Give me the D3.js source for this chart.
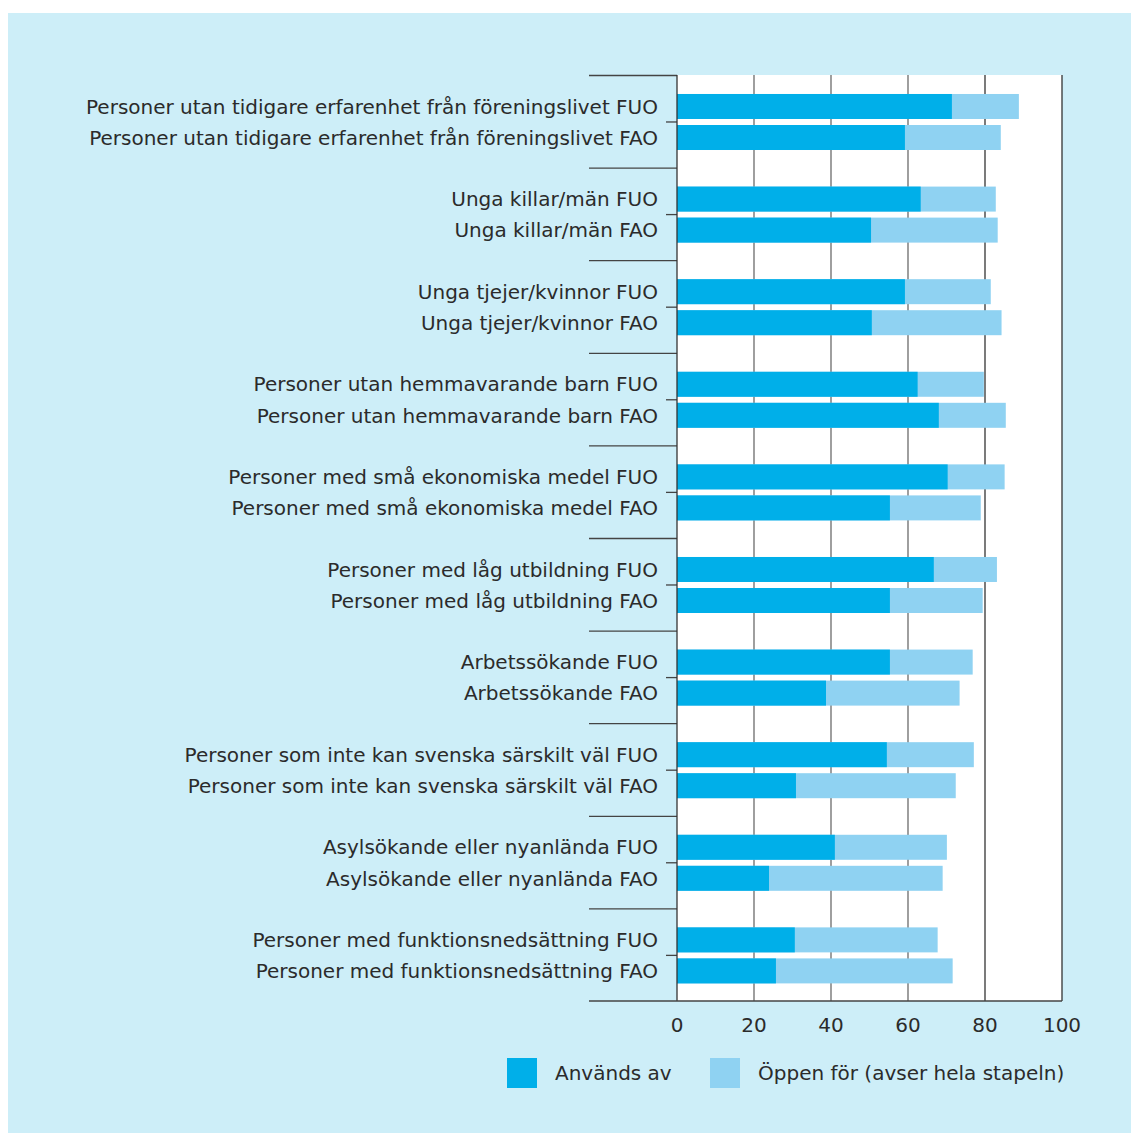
<!DOCTYPE html>
<html><head><meta charset="utf-8">
<script src="https://cdn.jsdelivr.net/npm/d3@7"></script>
<style>body{margin:0;background:#fff;}svg{display:block;}</style>
</head><body>
<script>
const categories = [
  "Personer utan tidigare erfarenhet från föreningslivet FUO",
  "Personer utan tidigare erfarenhet från föreningslivet FAO",
  "Unga killar/män FUO",
  "Unga killar/män FAO",
  "Unga tjejer/kvinnor FUO",
  "Unga tjejer/kvinnor FAO",
  "Personer utan hemmavarande barn FUO",
  "Personer utan hemmavarande barn FAO",
  "Personer med små ekonomiska medel FUO",
  "Personer med små ekonomiska medel FAO",
  "Personer med låg utbildning FUO",
  "Personer med låg utbildning FAO",
  "Arbetssökande FUO",
  "Arbetssökande FAO",
  "Personer som inte kan svenska särskilt väl FUO",
  "Personer som inte kan svenska särskilt väl FAO",
  "Asylsökande eller nyanlända FUO",
  "Asylsökande eller nyanlända FAO",
  "Personer med funktionsnedsättning FUO",
  "Personer med funktionsnedsättning FAO"
];
const usedBy = [71.4,59.2, 63.3,50.4, 59.2,50.6, 62.5,68.0, 70.3,55.3, 66.7,55.3, 55.3,38.7, 54.5,30.9, 41.0,23.9, 30.6,25.7];
const openFor = [88.8,84.1, 82.8,83.3, 81.5,84.3, 79.7,85.4, 85.1,78.9, 83.1,79.4, 76.8,73.4, 77.1,72.4, 70.1,69.0, 67.7,71.6];
const ticks = [0,20,40,60,80,100];
const legendLabels = ["Används av","Öppen för (avser hela stapeln)"];
const colors = ["#00afe9","#8fd2f2"];

const W=1131,H=1133;
const FONT="DejaVu Sans, Verdana, sans-serif";
const svg=d3.select("body").append("svg").attr("width",W).attr("height",H);
svg.append("rect").attr("x",8).attr("y",13).attr("width",W-8).attr("height",H-13).attr("fill","#cdeef8");

const x0=677,x1=1062,yTop=75,yBot=1001;
const x=d3.scaleLinear().domain([0,100]).range([x0,x1]);
const nGroups=categories.length/2;
const groups=d3.range(nGroups);
const yg=d3.scaleBand().domain(groups).range([yTop,yBot]).padding(0);
const gh=yg.bandwidth();
const barH=25;
const rowY=i=>{const g=Math.floor(i/2);return yg(g)+gh*0.205+(i%2)*gh*0.335;};

svg.append("rect").attr("x",x0).attr("y",yTop).attr("width",x1-x0).attr("height",yBot-yTop).attr("fill","#fff");

// gridlines
svg.selectAll(".grid").data(ticks.slice(1)).enter().append("line")
  .attr("x1",d=>x(d)).attr("x2",d=>x(d)).attr("y1",yTop).attr("y2",yBot)
  .attr("stroke",d=>d===60||d===20||d===40?"#6b6b6b":"#333").attr("stroke-width",1.3);

// bars
const bars=categories.map((c,i)=>({c,i,u:usedBy[i],o:openFor[i]}));
svg.selectAll(".bo").data(bars).enter().append("rect")
  .attr("x",x(0)).attr("y",d=>rowY(d.i)).attr("width",d=>x(d.o)-x(0)).attr("height",barH).attr("fill",colors[1]);
svg.selectAll(".bu").data(bars).enter().append("rect")
  .attr("x",x(0)).attr("y",d=>rowY(d.i)).attr("width",d=>x(d.u)-x(0)).attr("height",barH).attr("fill",colors[0]);

// separators
svg.selectAll(".sep").data(groups).enter().append("line")
  .attr("x1",589).attr("x2",x0).attr("y1",d=>yg(d)+0.5).attr("y2",d=>yg(d)+0.5)
  .attr("stroke","#444").attr("stroke-width",1.3);
svg.selectAll(".mt").data(groups).enter().append("line")
  .attr("x1",666).attr("x2",x0).attr("y1",d=>rowY(d*2)+barH+3).attr("y2",d=>rowY(d*2)+barH+3)
  .attr("stroke","#444").attr("stroke-width",1.3);
// axis lines
svg.append("line").attr("x1",x0).attr("x2",x0).attr("y1",yTop).attr("y2",yBot).attr("stroke","#333").attr("stroke-width",1.3);
svg.append("line").attr("x1",589).attr("x2",x1).attr("y1",yBot).attr("y2",yBot).attr("stroke","#444").attr("stroke-width",1.3);

// labels
svg.selectAll(".lab").data(bars).enter().append("text")
  .attr("x",658).attr("y",d=>rowY(d.i)+barH/2).attr("dy","0.36em")
  .attr("text-anchor","end").attr("font-family",FONT).attr("font-size",20)
  .attr("fill","#2b2b2b").text(d=>d.c);

// x tick labels
svg.selectAll(".tl").data(ticks).enter().append("text")
  .attr("x",d=>x(d)).attr("y",1032).attr("text-anchor","middle")
  .attr("font-family",FONT).attr("font-size",20).attr("fill","#2b2b2b").text(d=>d);

// legend
const lx=[507,710];
legendLabels.forEach((t,i)=>{
  svg.append("rect").attr("x",lx[i]).attr("y",1058).attr("width",30).attr("height",30).attr("fill",colors[i]);
  svg.append("text").attr("x",lx[i]+48).attr("y",1073).attr("dy","0.36em")
    .attr("font-family",FONT).attr("font-size",20).attr("fill","#2b2b2b").text(t);
});
</script>
</body></html>
